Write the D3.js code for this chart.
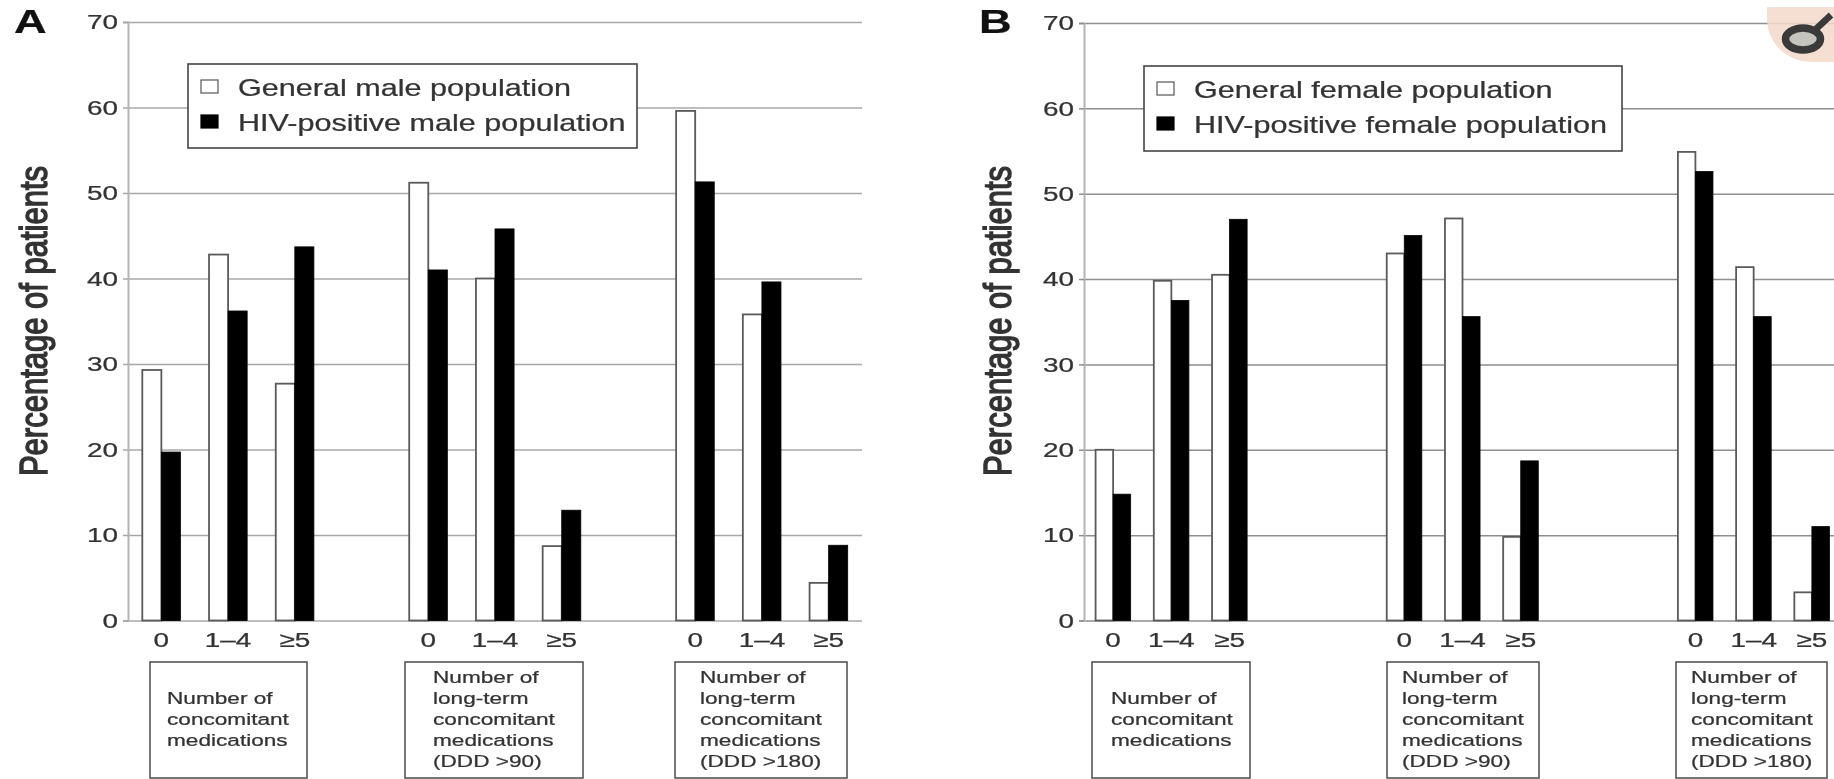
<!DOCTYPE html>
<html>
<head>
<meta charset="utf-8">
<script src="https://cdn.jsdelivr.net/npm/d3@7"></script>
<style>
  html, body { margin: 0; padding: 0; background: #fff; overflow: hidden; }
  svg { display: block; filter: blur(0.6px); }
  text { font-family: "Liberation Sans", Arial, sans-serif; fill: #333; stroke: #333; stroke-width: 0.25; }
</style>
</head>
<body>
<div id="root"></div>
<script>
const WIDTH = 1834;
const HEIGHT = 779;
const TEXT_STRETCH = 1.33; // the source figure is stretched sideways

const doseLabels = ['0', '1–4', '≥5'];
const groupKeys = ['all', 'ddd90', 'ddd180'];
const groupAllLines = ['Number of', 'concomitant', 'medications'];
const group90Lines = ['Number of', 'long-term', 'concomitant', 'medications', '(DDD >90)'];
const group180Lines = ['Number of', 'long-term', 'concomitant', 'medications', '(DDD >180)'];
const seriesKeys = ['general', 'hiv'];
const yTicks = [0, 10, 20, 30, 40, 50, 60, 70];

const maleGeneral = [29.3, 42.8, 27.7, 51.2, 40, 8.7, 59.6, 35.8, 4.4];
const maleHiv = [19.7, 36.2, 43.7, 41, 45.8, 12.9, 51.3, 39.6, 8.8];
const femaleGeneral = [20, 39.8, 40.5, 43, 47.1, 9.8, 54.9, 41.4, 3.3];
const femaleHiv = [14.8, 37.5, 47, 45.1, 35.6, 18.7, 52.6, 35.6, 11];

const svg = d3.select('#root').append('svg')
  .attr('width', WIDTH)
  .attr('height', HEIGHT);

svg.append('rect').attr('width', WIDTH).attr('height', HEIGHT).attr('fill', '#fff');

// text placed at x,y and stretched sideways around that point
const putText = (parent, str, x, y, size, anchor = 'start') =>
  parent.append('text')
    .attr('transform', `translate(${x},${y}) scale(${TEXT_STRETCH},1)`)
    .attr('font-size', size)
    .attr('text-anchor', anchor)
    .text(str);

const drawPanel = (p) => {
  const g = svg.append('g');

  // gaps between groups are just empty bands
  const slots = [];
  groupKeys.forEach((key, i) => {
    doseLabels.forEach(d => slots.push(`${key}|${d}`));
    if (i < groupKeys.length - 1) {
      d3.range(p.gapSlots).forEach(k => slots.push(`${key}|gap${k}`));
    }
  });
  const rows = groupKeys.flatMap(key => doseLabels.map(d => `${key}|${d}`));

  const x = d3.scaleBand().domain(slots).range([p.left, p.right]);
  const inner = d3.scaleBand().domain(seriesKeys)
    .range([0, x.bandwidth()])
    .paddingInner(0)
    .paddingOuter(p.barPad);
  const y = d3.scaleLinear().domain([0, 70]).range([p.y0, p.y70]);

  // gridlines
  const grid = g.append('g')
    .attr('transform', `translate(${p.left},0)`)
    .call(d3.axisLeft(y).tickValues(yTicks).tickSize(-(p.right - p.left)).tickFormat(''));
  grid.select('.domain').remove();
  grid.selectAll('line').attr('stroke', p.gridColor).attr('stroke-width', 1.5);

  // bars
  seriesKeys.forEach((key, s) => {
    const values = s === 0 ? p.general : p.hiv;
    g.append('g').selectAll('rect')
      .data(values)
      .join('rect')
      .attr('x', (d, i) => x(rows[i]) + inner(key))
      .attr('y', d => y(d))
      .attr('width', inner.bandwidth())
      .attr('height', d => y(0) - y(d))
      .attr('fill', s === 0 ? '#fff' : '#000')
      .attr('stroke', s === 0 ? '#5a5a5a' : '#000')
      .attr('stroke-width', s === 0 ? 1.8 : 0.8);
  });

  // y axis
  const axis = g.append('g')
    .attr('transform', `translate(${p.left},0)`)
    .call(d3.axisLeft(y).tickValues(yTicks).tickSize(5));
  axis.select('.domain').attr('stroke', '#b4b4b4').attr('stroke-width', 2);
  axis.selectAll('.tick line').attr('stroke', p.gridColor).attr('stroke-width', 1.5);
  axis.selectAll('.tick text')
    .attr('x', 0)
    .attr('transform', `translate(-10,0) scale(${TEXT_STRETCH},1)`)
    .attr('font-size', 21)
    .attr('font-family', '"Liberation Sans", Arial, sans-serif');

  // x labels
  rows.forEach((r) => {
    putText(g, r.split('|')[1], x(r) + x.bandwidth() / 2, p.y0 + 26, 21, 'middle');
  });

  putText(g, p.letter, p.letterX, 33, 34).attr('font-weight', 'bold').style('fill', '#111').style('stroke', '#111');

  // y title, rotated so the stretch runs across the glyphs
  g.append('text')
    .attr('transform', `translate(${p.titleX},321) rotate(-90) scale(1,1.25)`)
    .attr('font-size', 31)
    .attr('text-anchor', 'middle')
    .style('stroke-width', 1.2)
    .text('Percentage of patients');

  // legend
  const leg = p.legend;
  g.append('rect')
    .attr('x', leg.x).attr('y', leg.y).attr('width', leg.w).attr('height', leg.h)
    .attr('fill', '#fff').attr('stroke', '#444').attr('stroke-width', 1.6);
  p.legendLabels.forEach((label, i) => {
    const top = leg.y + 16 + i * 35;
    g.append('rect')
      .attr('x', leg.x + 13).attr('y', top).attr('width', 17).attr('height', 13)
      .attr('fill', i === 0 ? '#fff' : '#000')
      .attr('stroke', i === 0 ? '#555' : '#000')
      .attr('stroke-width', 1.2);
    putText(g, label, leg.x + 50, top + 15.5, 23);
  });

  // boxes under the groups
  [groupAllLines, group90Lines, group180Lines].forEach((lines, i) => {
    const b = p.boxes[i];
    g.append('rect')
      .attr('x', b.x0).attr('y', 662).attr('width', b.x1 - b.x0).attr('height', 116)
      .attr('fill', '#fff').attr('stroke', '#555').attr('stroke-width', 1.6);
    lines.forEach((line, k) => {
      const base = lines.length === 3 ? 704 : 683;
      putText(g, line, b.text, base + k * 21, 17);
    });
  });
};

drawPanel({
  letter: 'A',
  letterX: 14,
  titleX: 47,
  left: 128,
  right: 862,
  y0: 620.5,
  y70: 22,
  gapSlots: 1,
  barPad: 0.75,
  gridColor: '#a8a8a8',
  general: maleGeneral,
  hiv: maleHiv,
  legendLabels: ['General male population', 'HIV-positive male population'],
  legend: { x: 188, y: 64, w: 449, h: 84 },
  boxes: [
    { x0: 150, x1: 307, text: 167 },
    { x0: 405, x1: 583, text: 433 },
    { x0: 675, x1: 847, text: 700 },
  ],
});

drawPanel({
  letter: 'B',
  letterX: 979,
  titleX: 1011,
  left: 1084,
  right: 1841,
  y0: 620.5,
  y70: 23,
  gapSlots: 2,
  barPad: 0.66,
  gridColor: '#8e8e8e',
  general: femaleGeneral,
  hiv: femaleHiv,
  legendLabels: ['General female population', 'HIV-positive female population'],
  legend: { x: 1144, y: 66, w: 478, h: 85 },
  boxes: [
    { x0: 1092, x1: 1250, text: 1111 },
    { x0: 1387, x1: 1539, text: 1402 },
    { x0: 1676, x1: 1827, text: 1691 },
  ],
});

// sex symbol badge, top right corner
const badge = svg.append('g');
badge.append('path')
  .attr('d', 'M1767,7 H1834 V62 H1812 C1785,62 1767,42 1767,18 Z')
  .attr('fill', '#f3d8ca')
  .attr('opacity', 0.85);
badge.append('ellipse')
  .attr('cx', 1803).attr('cy', 39).attr('rx', 17.5).attr('ry', 11)
  .attr('fill', '#c6c4be').attr('stroke', '#3a3a3a').attr('stroke-width', 7.5);
badge.append('line')
  .attr('x1', 1816).attr('y1', 29).attr('x2', 1831).attr('y2', 15)
  .attr('stroke', '#3a3a3a').attr('stroke-width', 6.5);
</script>
</body>
</html>
